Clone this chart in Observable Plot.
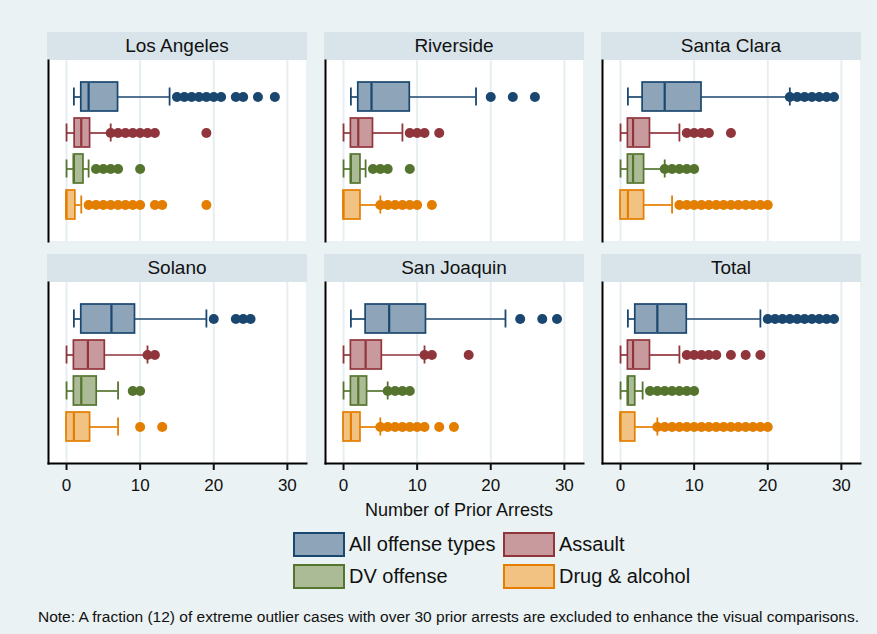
<!DOCTYPE html>
<html>
<head>
<meta charset="utf-8">
<script src="https://cdn.jsdelivr.net/npm/d3@7"></script>
<script src="https://cdn.jsdelivr.net/npm/@observablehq/plot@0.6"></script>
<style>
  body { margin: 0; }
  #root { position: relative; width: 877px; height: 634px; background: #eaf2f3; overflow: hidden;
          font-family: "Liberation Sans", Arial, sans-serif; color: #111; }
  .strip { position: absolute; height: 28px; background: #d8e4ea; text-align: center;
           line-height: 28px; font-size: 19px; }
  .plotbg { position: absolute; background: #ffffff; }
  .chart { position: absolute; }
  .lgbox { position: absolute; width: 48px; height: 21px; border-width: 2px; border-style: solid; }
  .lgtxt { position: absolute; font-size: 20px; line-height: 25px; }
</style>
</head>
<body>
<div id="root"></div>
<script>
// ---------------- data ----------------
const counties = ["Los Angeles", "Riverside", "Santa Clara", "Solano", "San Joaquin", "Total"];
const offenseTypes = ["All offense types", "Assault", "DV offense", "Drug & alcohol"];
const xTicks = [0, 10, 20, 30];

// per county: [All, Assault, DV, Drug]
const lowWhisker = [
  [1, 0, 0, 0], [1, 0, 0, 0], [1, 0, 0, 0],
  [1, 0, 0, 0], [1, 0, 0, 0], [1, 0, 0, 0]
];
const q1 = [
  [2, 1.1, 1, 0], [2, 1, 1, 0], [3, 1, 1, 0],
  [2, 1, 1, 0], [3, 1, 1, 0], [2, 1, 1, 0]
];
const median = [
  [3, 2, 1, 0], [3.8, 2, 1, 0], [6, 1.7, 1.7, 1],
  [6.1, 2.9, 2, 1], [6.2, 3, 2, 1], [5, 1.7, 1, 0]
];
const q3 = [
  [7, 3.2, 2.3, 1.2], [9, 4, 2.3, 2.3], [11, 4, 3.2, 3.2],
  [9.3, 5.2, 4.1, 3.2], [11.2, 5.2, 3.2, 2.3], [9, 4, 2, 2]
];
const highWhisker = [
  [14, 6, 3, 2], [18, 8, 3, 5], [23, 8, 6, 7],
  [19, 11, 7, 7], [22, 11, 6, 5], [19, 8, 3, 5]
];
const outliers = [
  [[15,16,17,18,19,20,21,23,24,26,28.3], [6,7,8,9,10,11,12,19], [4,5,6,7,10], [3,4,5,6,7,8,9,10,12,13,19]],
  [[20,23,26], [9,10,11,13], [4,5,6,9], [5,6,7,8,9,10,12]],
  [[23,24,25,26,27,28,29], [9,10,11,12,15], [6,7,8,9,10], [8,9,10,11,12,13,14,15,16,17,18,19,20]],
  [[20,23,24,25], [11,12], [9,10], [10,13]],
  [[24,27,29], [11,12,17], [6,7,8,9], [5,6,7,8,9,10,11,13,15]],
  [[20,21,22,23,24,25,26,27,28,29], [9,10,11,12,13,15,17,19], [4,5,6,7,8,9,10], [5,6,7,8,9,10,11,12,13,14,15,16,17,18,19,20]]
];

const boxFill   = ["#8ea4b9", "#c99a9d", "#abbb96", "#f2c283"];
const boxStroke = ["#1a476f", "#90353b", "#55752f", "#e37e00"];

// ---------------- layout ----------------
const root = document.getElementById("root");
const panelLeft = [48, 325, 602];
const stripTop = [32, 254];
const plotTop = [60, 282];
const plotW = 258, plotH = 181;
const fontFamily = '"Liberation Sans", Arial, sans-serif';

counties.forEach((county, ci) => {
  const col = ci % 3, row = Math.floor(ci / 3);
  const left = panelLeft[col];
  const bottom = row === 1;

  const strip = document.createElement("div");
  strip.className = "strip";
  strip.style.left = (left - 1) + "px";
  strip.style.top = stripTop[row] + "px";
  strip.style.width = (plotW + 2) + "px";
  strip.textContent = county;
  root.appendChild(strip);

  const bg = document.createElement("div");
  bg.className = "plotbg";
  bg.style.left = left + "px";
  bg.style.top = plotTop[row] + "px";
  bg.style.width = plotW + "px";
  bg.style.height = plotH + "px";
  root.appendChild(bg);

  const stats = offenseTypes.map((t, ti) => ({
    type: t, lo: lowWhisker[ci][ti], q1: q1[ci][ti], med: median[ci][ti],
    q3: q3[ci][ti], hi: highWhisker[ci][ti], fill: boxFill[ti], stroke: boxStroke[ti]
  }));
  const dots = offenseTypes.flatMap((t, ti) =>
    outliers[ci][ti].map(v => ({type: t, value: v, color: boxStroke[ti]})));

  const marks = [
    Plot.gridX(xTicks, {stroke: "#e6eef1", strokeOpacity: 1, strokeWidth: 2}),
    Plot.ruleY(stats, {y: "type", x1: "lo", x2: "q1", stroke: "stroke", strokeWidth: 1.7}),
    Plot.ruleY(stats, {y: "type", x1: "q3", x2: "hi", stroke: "stroke", strokeWidth: 1.7}),
    Plot.tickX(stats, {y: "type", x: "lo", stroke: "stroke", strokeWidth: 1.8, insetTop: 5.5, insetBottom: 5.5}),
    Plot.tickX(stats, {y: "type", x: "hi", stroke: "stroke", strokeWidth: 1.8, insetTop: 5.5, insetBottom: 5.5}),
    Plot.barX(stats, {y: "type", x1: "q1", x2: "q3", fill: "fill", stroke: "stroke", strokeWidth: 1.7}),
    Plot.tickX(stats, {y: "type", x: "med", stroke: "stroke", strokeWidth: 2.2, insetTop: 1, insetBottom: 1}),
    Plot.dot(dots, {y: "type", x: "value", fill: "color", r: 5}),
    Plot.frame({anchor: "left", stroke: "#000", strokeWidth: 2})
  ];
  if (bottom) {
    marks.push(Plot.frame({anchor: "bottom", stroke: "#000", strokeWidth: 2}));
    marks.push(Plot.axisX(xTicks, {tickSize: 7, tickPadding: 8, strokeWidth: 2, fontSize: 17, label: null, fill: "#111"}));
  }

  const chart = Plot.plot({
    width: plotW + 1,
    height: plotH + (bottom ? 40 : 0),
    marginLeft: 1, marginRight: 0, marginTop: 0, marginBottom: bottom ? 40 : 0,
    style: {background: "transparent", fontFamily, fontSize: "17px", color: "#111", overflow: "visible"},
    x: {domain: [-2.45, 32.6], label: null, axis: bottom ? undefined : null},
    y: {type: "band", domain: offenseTypes, paddingInner: 0.2, paddingOuter: 0.59, axis: null},
    marks
  });
  chart.classList.add("chart");
  chart.style.left = (left - 1) + "px";
  chart.style.top = plotTop[row] + "px";
  root.appendChild(chart);
});

// x-axis title
const xt = document.createElement("div");
xt.style.cssText = "position:absolute;left:259px;width:400px;top:499px;text-align:center;font-size:18px;line-height:22px;";
xt.textContent = "Number of Prior Arrests";
root.appendChild(xt);

// legend
const legendPos = [[293, 532], [503, 532], [293, 564], [503, 564]];
offenseTypes.forEach((t, ti) => {
  const [lx, ly] = legendPos[ti];
  const b = document.createElement("div");
  b.className = "lgbox";
  b.style.left = lx + "px"; b.style.top = ly + "px";
  b.style.background = boxFill[ti]; b.style.borderColor = boxStroke[ti];
  root.appendChild(b);
  const tx = document.createElement("div");
  tx.className = "lgtxt";
  tx.style.left = (lx + 56) + "px"; tx.style.top = (ly) + "px";
  tx.textContent = t;
  root.appendChild(tx);
});

// note
const note = document.createElement("div");
note.style.cssText = "position:absolute;left:38px;top:608px;font-size:15.5px;line-height:18px;white-space:nowrap;";
note.textContent = "Note: A fraction (12) of extreme outlier cases with over 30 prior arrests are excluded to enhance the visual comparisons.";
root.appendChild(note);
</script>
</body>
</html>
